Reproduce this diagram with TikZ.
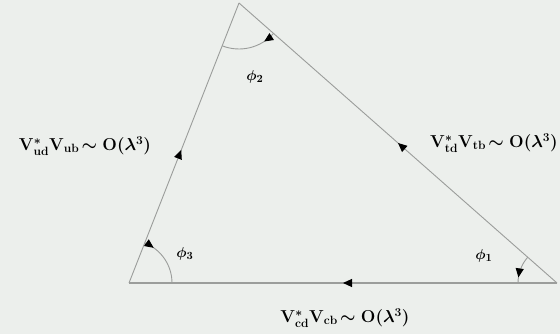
\documentclass[tikz,border=0pt]{standalone}
\usetikzlibrary{arrows.meta,decorations.markings}
\definecolor{paper}{RGB}{236,239,236}
\definecolor{edge}{RGB}{155,157,155}
\newcommand{\ckm}[2]{\mathrm{V}^{*}_{\mathrm{#1}}\mathrm{V}_{\mathrm{#2}}\!\sim \mathrm{O}(\lambda^{3})}
\tikzset{
  side/.style={draw=edge, line width=0.9pt},
  flow/.style={postaction={decorate, decoration={markings,
      mark=at position #1 with {\arrow[black]{Triangle[length=9pt,width=8pt]}}}}},
  lbl/.style={font=\fontsize{17}{20}\selectfont\boldmath, inner sep=0pt},
  ang/.style={font=\fontsize{15}{18}\selectfont\boldmath, inner sep=0pt},
}

\begin{document}
\begin{tikzpicture}[x=1pt, y=1pt]
    \path[use as bounding box, fill=paper] (0,0) rectangle (560,334);
    % unitarity triangle
    \coordinate (vL) at (129,51);
    \coordinate (vT) at (239,331);
    \coordinate (vR) at (557,51);
    \draw[side, line width=1.1pt, flow=0.5] (vR) -- (vL);
    \draw[side, flow=0.475] (vL) -- (vT);
    \draw[side, flow=0.5] (vR) -- (vT);
    % angles
    \draw[side, flow=0.22] ([shift={(318.6:46)}]vT) arc[start angle=318.6, end angle=248.6, radius=46];
    \draw[side, flow=0.2] ([shift={(68.6:43)}]vL) arc[start angle=68.6, end angle=0, radius=43];
    \draw[side, flow=0.8] ([shift={(138.6:39)}]vR) arc[start angle=138.6, end angle=180, radius=39];
    \node[ang] (phi2) at (255,257) {$\phi_2$};
    \node[ang] (phi3) at (185,80) {$\phi_3$};
    \node[ang] (phi1) at (484,78) {$\phi_1$};
    \node[lbl] (sideL) at (85,188) {$\ckm{ud}{ub}$};
    \node[lbl, anchor=east] (sideR) at (558,191) {$\ckm{td}{tb}$};
    \node[lbl] (sideB) at (345,16) {$\ckm{cd}{cb}$};
\end{tikzpicture}
\end{document}
